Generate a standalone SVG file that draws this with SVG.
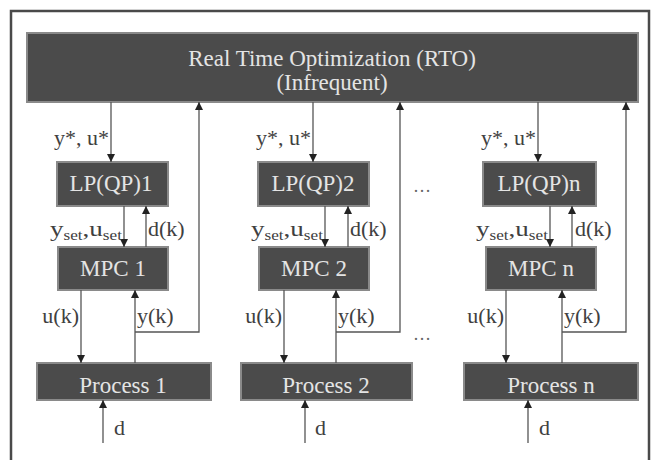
<svg xmlns="http://www.w3.org/2000/svg" width="651" height="460" viewBox="0 0 651 460">
<style>
.box{fill:#4b4b4b;stroke:#8a8a8a;stroke-width:2}
.bt{font-family:"Liberation Serif",serif;font-size:23px;fill:#e4e4e4;text-anchor:middle}
.lb{font-family:"Liberation Serif",serif;font-size:22px;fill:#404040}
.sub{font-size:14px}
.ln{fill:none;stroke:#555;stroke-width:1.3}
.dots{font-family:"Liberation Serif",serif;font-size:18px;fill:#666}
</style>
<defs>
<marker id="ah" markerUnits="userSpaceOnUse" markerWidth="8" markerHeight="8" refX="8" refY="4" orient="auto">
<path d="M0,0 L8,4 L0,8 z" fill="#222"/>
</marker>
</defs>
<rect x="0" y="0" width="651" height="460" fill="#fff"/>
<path d="M11,462 V11 H649 V462" fill="none" stroke="#4a4a4a" stroke-width="2.5"/>

<g id="rto">
<rect class="box" x="27" y="33" width="611" height="69"/>
<text class="bt" x="332" y="66">Real Time Optimization (RTO)</text>
<text class="bt" x="332" y="90">(Infrequent)</text>
</g>

<g id="lp1"><rect class="box" x="57" y="162" width="111" height="44"/><text class="bt" x="111" y="191">LP(QP)1</text></g>
<g id="mpc1"><rect class="box" x="58" y="247" width="110" height="43"/><text class="bt" x="113" y="276">MPC 1</text></g>
<g id="proc1"><rect class="box" x="37" y="363" width="174" height="37"/><text class="bt" x="123" y="393">Process 1</text></g>

<g id="lp2"><rect class="box" x="258" y="162" width="111" height="44"/><text class="bt" x="313" y="191">LP(QP)2</text></g>
<g id="mpc2"><rect class="box" x="259" y="247" width="110" height="43"/><text class="bt" x="314" y="276">MPC 2</text></g>
<g id="proc2"><rect class="box" x="241" y="363" width="171" height="37"/><text class="bt" x="326" y="393">Process 2</text></g>

<g id="lpn"><rect class="box" x="483" y="162" width="113" height="44"/><text class="bt" x="539" y="191">LP(QP)n</text></g>
<g id="mpcn"><rect class="box" x="486" y="247" width="110" height="43"/><text class="bt" x="541" y="276">MPC n</text></g>
<g id="procn"><rect class="box" x="464" y="363" width="174" height="37"/><text class="bt" x="551" y="393">Process n</text></g>

<g id="connectors">
<line class="ln" x1="111" y1="102" x2="111" y2="162" marker-end="url(#ah)"/>
<line class="ln" x1="124" y1="206" x2="124" y2="247" marker-end="url(#ah)"/>
<line class="ln" x1="146" y1="247" x2="146" y2="206" marker-end="url(#ah)"/>
<line class="ln" x1="81" y1="290" x2="81" y2="363" marker-end="url(#ah)"/>
<line class="ln" x1="135" y1="363" x2="135" y2="290" marker-end="url(#ah)"/>
<path class="ln" d="M135,332 H199 V102" marker-end="url(#ah)"/>
<line class="ln" x1="103" y1="443" x2="103" y2="400" marker-end="url(#ah)"/>

<line class="ln" x1="313" y1="102" x2="313" y2="162" marker-end="url(#ah)"/>
<line class="ln" x1="325" y1="206" x2="325" y2="247" marker-end="url(#ah)"/>
<line class="ln" x1="348" y1="247" x2="348" y2="206" marker-end="url(#ah)"/>
<line class="ln" x1="284" y1="290" x2="284" y2="363" marker-end="url(#ah)"/>
<line class="ln" x1="336" y1="363" x2="336" y2="290" marker-end="url(#ah)"/>
<path class="ln" d="M336,332 H400 V102" marker-end="url(#ah)"/>
<line class="ln" x1="305" y1="443" x2="305" y2="400" marker-end="url(#ah)"/>

<line class="ln" x1="538" y1="102" x2="538" y2="162" marker-end="url(#ah)"/>
<line class="ln" x1="550" y1="206" x2="550" y2="247" marker-end="url(#ah)"/>
<line class="ln" x1="572" y1="247" x2="572" y2="206" marker-end="url(#ah)"/>
<line class="ln" x1="506" y1="290" x2="506" y2="363" marker-end="url(#ah)"/>
<line class="ln" x1="562" y1="363" x2="562" y2="290" marker-end="url(#ah)"/>
<path class="ln" d="M562,332 H626 V102" marker-end="url(#ah)"/>
<line class="ln" x1="528" y1="443" x2="528" y2="400" marker-end="url(#ah)"/>
</g>

<g id="labels">
<text class="lb" x="109" y="145" text-anchor="end">y*, u*</text>
<text class="lb" x="311" y="145" text-anchor="end">y*, u*</text>
<text class="lb" x="536" y="145" text-anchor="end">y*, u*</text>

<text class="lb" x="50" y="236" textLength="72" lengthAdjust="spacingAndGlyphs">y<tspan class="sub" dy="4">set</tspan><tspan dy="-4">,u</tspan><tspan class="sub" dy="4">set</tspan></text>
<text class="lb" x="251" y="236" textLength="72" lengthAdjust="spacingAndGlyphs">y<tspan class="sub" dy="4">set</tspan><tspan dy="-4">,u</tspan><tspan class="sub" dy="4">set</tspan></text>
<text class="lb" x="476" y="236" textLength="72" lengthAdjust="spacingAndGlyphs">y<tspan class="sub" dy="4">set</tspan><tspan dy="-4">,u</tspan><tspan class="sub" dy="4">set</tspan></text>

<text class="lb" x="148" y="236">d(k)</text>
<text class="lb" x="350" y="236">d(k)</text>
<text class="lb" x="575" y="236">d(k)</text>

<text class="lb" x="79" y="323" text-anchor="end">u(k)</text>
<text class="lb" x="282" y="323" text-anchor="end">u(k)</text>
<text class="lb" x="504" y="323" text-anchor="end">u(k)</text>

<text class="lb" x="137" y="323">y(k)</text>
<text class="lb" x="338" y="323">y(k)</text>
<text class="lb" x="564" y="323">y(k)</text>

<text class="lb" x="114" y="435">d</text>
<text class="lb" x="315" y="435">d</text>
<text class="lb" x="539" y="435">d</text>

<text class="dots" x="413" y="192">…</text>
<text class="dots" x="413" y="340">…</text>
</g>
</svg>
